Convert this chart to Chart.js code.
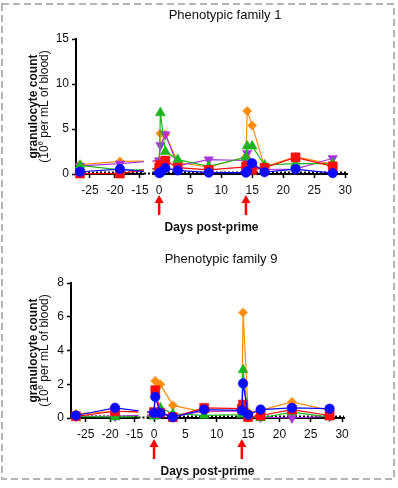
<!DOCTYPE html>
<html>
<head>
<meta charset="utf-8">
<script src="https://cdn.jsdelivr.net/npm/chart.js@4.4.1/dist/chart.umd.min.js"></script>
<style>
  html, body { margin: 0; padding: 0; background: #fff; }
  #wrap { position: relative; width: 398px; height: 488px; overflow: hidden; }
  #frame { position: absolute; left: 0; top: 0; }
  canvas { position: absolute; left: 0; }
</style>
</head>
<body>
<div id="wrap">
  <svg id="frame" width="398" height="488">
    <rect x="2" y="4" width="392" height="475" fill="none" stroke="#b4b4b4" stroke-width="2" stroke-dasharray="7,4"/>
  </svg>
  <canvas id="fam1" width="398" height="240" style="top:0"></canvas>
  <canvas id="fam9" width="398" height="248" style="top:240px"></canvas>
</div>
<script>
// Sampling days relative to the prime (day 0) and the boost (day 14)
const days = [-27, -19, 0, 0.2, 1, 3, 8, 14, 14.2, 15, 17, 22, 28];
const xTickDays = [-25, -20, -15, 0, 5, 10, 15, 20, 25, 30];
const xTickLabels = ['-25', '-20', '-15', '0', '5', '10', '15', '20', '25', '30'];
const doseDays = [0, 14];

// Phenotypic family 1 (10^6 granulocytes per mL)
const fam1Orange = [1.05, 1.4, 1.45, 4.5, 4.4, 1.3, 0.75, 1.9, 7.0, 5.4, 0.8, 1.9, 1.1];
const fam1Purple = [0.9, 1.15, 1.5, 3.2, 4.4, 0.9, 1.6, 1.5, 2.3, 0.9, 0.5, 0.55, 1.75];
const fam1Green  = [0.95, 0.45, 0.5, 6.8, 2.5, 1.6, 0.85, 1.85, 3.1, 3.1, 1.0, 1.15, 1.15];
const fam1Red    = [0.05, 0.05, 0.7, 1.0, 1.5, 0.7, 0.45, 0.8, 0.9, 0.45, 0.7, 1.85, 0.85];
const fam1Blue   = [0.25, 0.55, 0.1, 0.15, 0.65, 0.4, 0.15, 0.15, 0.3, 1.2, 0.2, 0.55, 0.1];
const fam1YTicks = [0, 5, 10, 15];

// Phenotypic family 9
const fam9Orange = [0.25, 0.4, 0.3, 2.2, 2.0, 0.75, 0.35, 0.5, 6.25, 0.35, 0.45, 0.95, 0.45];
const fam9Purple = [0.1, 0.1, 0.2, 0.3, 0.3, 0.1, 0.4, 0.4, 0.5, 0.1, 0.05, 0.0, 0.1];
const fam9Green  = [0.1, 0.05, 0.1, 0.15, 0.6, 0.25, 0.15, 0.2, 2.85, 0.1, 0.0, 0.35, 0.05];
const fam9Red    = [0.1, 0.4, 0.35, 1.65, 0.3, 0.05, 0.6, 0.55, 0.8, 0.05, 0.15, 0.5, 0.15];
const fam9Blue   = [0.15, 0.6, 0.3, 1.25, 0.3, 0.05, 0.5, 0.45, 2.05, 0.2, 0.5, 0.6, 0.55];
const fam9YTicks = [0, 2, 4, 6, 8];

const FONT = "'Liberation Sans', Arial, Helvetica, sans-serif";

// Marker / colour style of each animal series (first entry is drawn on top)
const seriesStyles = [
  { key: 'blue',   color: '#0a0aff', pointStyle: 'circle',   radius: 4.8, rotation: 0 },
  { key: 'red',    color: '#ff0a0a', pointStyle: 'rect',     radius: 6.4, rotation: 0 },
  { key: 'green',  color: '#1fb31f', pointStyle: 'triangle', radius: 5.8, rotation: 0 },
  { key: 'purple', color: '#a835e0', pointStyle: 'triangle', radius: 5.5, rotation: 180 },
  { key: 'orange', color: '#ff8c0a', pointStyle: 'rectRot',  radius: 4.6, rotation: 0 }
];

// Broken x axis: the pre-prime segment is compressed and separated by a gap
function makeBreak(b) {
  const leftLen = b.leftRatio * (b.leftEnd - b.xMin);
  const toU = d => d <= b.leftEnd
    ? b.leftRatio * (d - b.xMin)
    : leftLen + b.gap + (d - b.rightStart);
  return { toU, uMax: toU(b.xMax), gapFrom: leftLen, gapTo: leftLen + b.gap };
}

function drawYTitle(ctx, cx1, cx2, cy) {
  ctx.save();
  ctx.fillStyle = '#111';
  ctx.textBaseline = 'middle';
  // first line, bold
  ctx.save();
  ctx.translate(cx1, cy);
  ctx.rotate(-Math.PI / 2);
  ctx.font = 'bold 12px ' + FONT;
  ctx.textAlign = 'center';
  ctx.fillText('granulocyte count', 0, 0);
  ctx.restore();
  // second line with superscript exponent
  ctx.save();
  ctx.translate(cx2, cy);
  ctx.rotate(-Math.PI / 2);
  ctx.textAlign = 'left';
  const normal = '12px ' + FONT, small = '8px ' + FONT;
  const parts = [['(10', normal, 0], ['6', small, -4], [' per mL of blood)', normal, 0]];
  let total = 0;
  parts.forEach(p => { ctx.font = p[1]; total += ctx.measureText(p[0]).width; });
  let x = -total / 2;
  parts.forEach(p => {
    ctx.font = p[1];
    ctx.fillText(p[0], x, p[2]);
    x += ctx.measureText(p[0]).width;
  });
  ctx.restore();
  ctx.restore();
}

function decorPlugin(cfg, brk) {
  return {
    id: 'decor',
    beforeDatasetsDraw(chart) {
      const { ctx, chartArea: a, scales: { y } } = chart;
      const y0 = y.getPixelForValue(0);
      ctx.save();
      ctx.strokeStyle = '#000';
      ctx.lineWidth = 2;
      ctx.setLineDash([2, 2]);
      ctx.beginPath();
      ctx.moveTo(a.left, y0 - 1.5);
      ctx.lineTo(a.right, y0 - 1.5);
      ctx.stroke();
      ctx.restore();
    },
    afterDatasetsDraw(chart) {
      const { ctx, chartArea: a, scales: { x, y } } = chart;
      const y0 = y.getPixelForValue(0);
      const g1 = x.getPixelForValue(brk.gapFrom);
      const g2 = x.getPixelForValue(brk.gapTo);
      ctx.save();
      ctx.fillStyle = '#fff';
      ctx.fillRect(g1, a.top - 12, g2 - g1, y0 + 3 - (a.top - 12));
      ctx.strokeStyle = '#000';
      ctx.lineWidth = 2;
      ctx.setLineDash([2, 2]);
      ctx.beginPath();
      ctx.moveTo(g1 - 4, y0 - 0.5);
      ctx.lineTo(g2 + 1, y0 - 0.5);
      ctx.stroke();
      ctx.restore();
    },
    afterDraw(chart) {
      const { ctx, chartArea: a, scales: { x, y } } = chart;
      const y0 = y.getPixelForValue(0);
      const midX = (a.left + a.right) / 2;
      ctx.save();
      // title
      ctx.fillStyle = '#111';
      ctx.font = '13px ' + FONT;
      ctx.textAlign = 'center';
      ctx.textBaseline = 'middle';
      ctx.fillText(cfg.title, midX + 13.5, a.top - 24);
      // x title
      ctx.font = 'bold 12px ' + FONT;
      ctx.fillText('Days post-prime', midX, y0 + 54);
      // y title
      drawYTitle(ctx, 34, 45, (a.top + a.bottom) / 2);
      // dose arrows
      ctx.fillStyle = '#ff0000';
      doseDays.forEach(d => {
        const px = x.getPixelForValue(brk.toU(d));
        const tip = y0 + 21, end = y0 + 41;
        ctx.beginPath();
        ctx.moveTo(px, tip);
        ctx.lineTo(px - 4.5, tip + 8);
        ctx.lineTo(px + 4.5, tip + 8);
        ctx.closePath();
        ctx.fill();
        ctx.fillRect(px - 1.25, tip + 7, 2.5, end - tip - 7);
      });
      ctx.restore();
    }
  };
}

function buildChart(canvasId, cfg) {
  const brk = makeBreak(cfg.brk);
  const datasets = seriesStyles.map(s => ({
    label: s.key,
    data: days.map((d, i) => ({ x: brk.toU(d), y: cfg.series[s.key][i] })),
    borderColor: s.color,
    backgroundColor: s.color,
    borderWidth: 1.2,
    pointStyle: s.pointStyle,
    pointRadius: s.radius,
    pointRotation: s.rotation,
    pointBorderWidth: 0.5,
    pointBackgroundColor: s.color,
    pointBorderColor: s.color,
    tension: 0,
    clip: false
  }));
  return new Chart(document.getElementById(canvasId), {
    type: 'line',
    data: { datasets },
    options: {
      responsive: false,
      animation: false,
      devicePixelRatio: 1,
      layout: { padding: cfg.padding },
      plugins: { legend: { display: false }, tooltip: { enabled: false }, title: { display: false } },
      elements: { line: { fill: false } },
      scales: {
        x: {
          type: 'linear',
          min: 0,
          max: brk.uMax,
          afterBuildTicks: scale => { scale.ticks = xTickDays.map(d => ({ value: brk.toU(d) })); },
          afterFit: scale => { scale.height = 22; },
          ticks: {
            autoSkip: false, maxRotation: 0, padding: 5,
            color: '#111', font: { family: FONT, size: 12 },
            callback: (v, i) => xTickLabels[i]
          },
          grid: { display: true, drawOnChartArea: false, drawTicks: true, tickLength: 4, tickColor: '#000', tickWidth: 1.5 },
          border: { display: true, color: '#000', width: 2 }
        },
        y: {
          type: 'linear',
          min: cfg.yTicks[0],
          max: cfg.yTicks[cfg.yTicks.length - 1],
          afterBuildTicks: scale => { scale.ticks = cfg.yTicks.map(v => ({ value: v })); },
          afterFit: scale => { scale.width = 30; },
          ticks: { padding: 3, color: '#111', font: { family: FONT, size: 12 } },
          grid: { display: true, drawOnChartArea: false, drawTicks: true, tickLength: 4, tickColor: '#000', tickWidth: 1.5 },
          border: { display: true, color: '#000', width: 2 }
        }
      }
    },
    plugins: [decorPlugin(cfg, brk)]
  });
}

buildChart('fam1', {
  title: 'Phenotypic family 1',
  series: { orange: fam1Orange, purple: fam1Purple, green: fam1Green, red: fam1Red, blue: fam1Blue },
  yTicks: fam1YTicks,
  brk: { xMin: -27.8, leftEnd: -14.2, rightStart: -1.1, xMax: 30.3, leftRatio: 0.806, gap: 1.35 },
  padding: { left: 46, right: 51, top: 39, bottom: 44 }
});

buildChart('fam9', {
  title: 'Phenotypic family 9',
  series: { orange: fam9Orange, purple: fam9Purple, green: fam9Green, red: fam9Red, blue: fam9Blue },
  yTicks: fam9YTicks,
  brk: { xMin: -28, leftEnd: -14.2, rightStart: -1.1, xMax: 30.3, leftRatio: 0.78, gap: 1.38 },
  padding: { left: 41, right: 54, top: 43, bottom: 48 }
});
</script>
</body>
</html>
